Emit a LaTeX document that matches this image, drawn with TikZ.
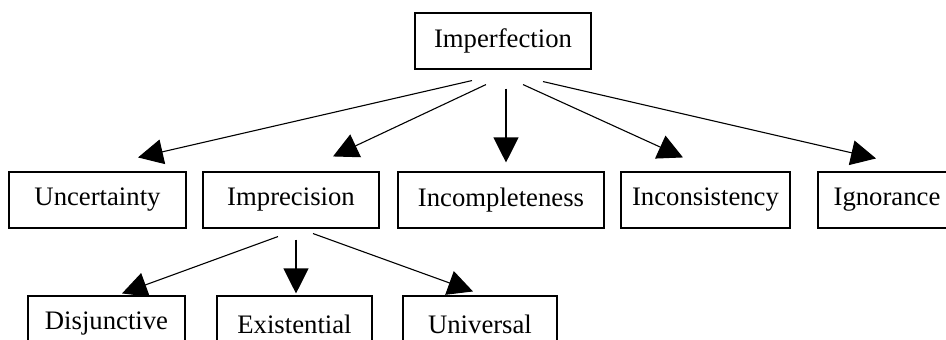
\documentclass[tikz,border=0pt]{standalone}
\usepackage{fontspec}
\setmainfont{Liberation Serif}
\usetikzlibrary{arrows.meta,calc}
\begin{document}
\begin{tikzpicture}[x=1pt,y=-1pt,
  box/.style={draw,line width=1.1pt,inner sep=0pt,minimum height=56pt,
    font=\fontsize{26.7}{32}\selectfont},
  arr/.style={line width=1.1pt,-{Triangle[length=25pt,width=25pt]}}]
\useasboundingbox (0,0) rectangle (946,340);

% root
\node[box,minimum width=176pt] (imp) at (503,41) {Imperfection};

% first level
\node[box,minimum width=177pt] (unc) at (97.5,200) {Uncertainty};
\node[box,minimum width=176pt] (pre) at (291,200) {Imprecision};
\node[box,minimum width=206pt] (inc) at (501,200) {Incompleteness};
\node[box,minimum width=169pt] (ins) at (705.5,200) {Inconsistency};
\node[box,minimum width=138pt] (ign) at (887,200) {Ignorance};

% second level
\node[box,minimum width=157pt] (dis) at (106.5,324) {Disjunctive};
\node[box,minimum width=155pt] (exi) at (294.5,324) {Existential};
\node[box,minimum width=154pt] (uni) at (480,324) {Universal};

% arrow start points below the root
\coordinate (s1) at ($(imp.south)+(-31,11)$);
\coordinate (s2) at ($(imp.south)+(-17,15)$);
\coordinate (s3) at ($(imp.south)+(3,19)$);
\coordinate (s4) at ($(imp.south)+(20,15)$);
\coordinate (s5) at ($(imp.south)+(40,12)$);
% arrow tips above the first level
\coordinate (t1) at ($(unc.north)+(40.5,-14)$);
\coordinate (t2) at ($(pre.north)+(42,-15)$);
\coordinate (t3) at ($(inc.north)+(5,-9)$);
\coordinate (t4) at ($(ins.north)+(-22.5,-14)$);
\coordinate (t5) at ($(ign.north)+(-11,-13)$);

\draw[arr] (s1) -- (t1);
\draw[arr] (s2) -- (t2);
\draw[arr] (s3) -- (t3);
\draw[arr] (s4) -- (t4);
\draw[arr] (s5) -- (t5);

% arrows below Imprecision
\coordinate (p1) at ($(pre.south)+(-13,8)$);
\coordinate (p2) at ($(pre.south)+(5,11)$);
\coordinate (p3) at ($(pre.south)+(22,5)$);
\coordinate (q1) at ($(dis.north)+(15.5,-2)$);
\coordinate (q2) at ($(exi.north)+(1.5,-2)$);
\coordinate (q3) at ($(uni.north)+(-7,-4)$);

\draw[arr] (p1) -- (q1);
\draw[arr] (p2) -- (q2);
\draw[arr] (p3) -- (q3);
\end{tikzpicture}
\end{document}
